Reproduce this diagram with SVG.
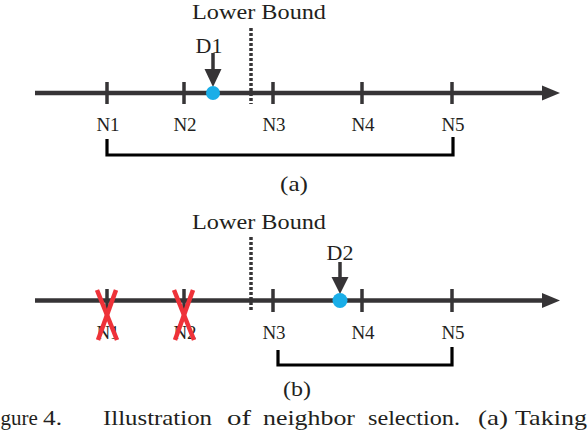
<svg xmlns="http://www.w3.org/2000/svg" width="588" height="436" viewBox="0 0 588 436" font-family="'Liberation Serif', 'Times New Roman', Times, serif">
<style>
text{font-family:'Liberation Serif','Times New Roman',Times,serif;fill:#231f20}
.lbl{font-size:19px;text-anchor:middle}
.lb{font-size:22px}
.d{font-size:22px;text-anchor:middle}
.sub{font-size:22px;text-anchor:middle}
.cap{font-size:21px}
.axis{stroke:#363436;stroke-width:4.5;fill:none}
.tick{stroke:#363436;stroke-width:3.5}
.dash{stroke:#363436;stroke-width:3.5;stroke-dasharray:3 2}
.br{stroke:#000;stroke-width:3.2;fill:none}
.ptr{stroke:#363436;stroke-width:3.5}
.dot{fill:#1aaee8}
.x{stroke:#ee3239;stroke-width:4.5;stroke-linecap:butt}
</style>
<g id="panel-a">
<g id="axis-a"><line class="axis" x1="35" y1="93" x2="545" y2="93"/><polygon points="542,85.5 560,93 542,100.5" fill="#363436"/></g>
<g id="a-N1"><line class="tick" x1="107" y1="82" x2="107" y2="104"/><text class="lbl" x="108" y="131">N1</text></g>
<g id="a-N2"><line class="tick" x1="184" y1="82" x2="184" y2="104"/><text class="lbl" x="185" y="131">N2</text></g>
<g id="a-N3"><line class="tick" x1="273" y1="82" x2="273" y2="104"/><text class="lbl" x="274" y="131">N3</text></g>
<g id="a-N4"><line class="tick" x1="362" y1="82" x2="362" y2="104"/><text class="lbl" x="363" y="131">N4</text></g>
<g id="a-N5"><line class="tick" x1="452" y1="82" x2="452" y2="104"/><text class="lbl" x="453" y="131">N5</text></g>
<g id="a-bound"><line class="dash" x1="251" y1="28" x2="251" y2="104"/><text class="lb" x="192" y="19" textLength="134" lengthAdjust="spacingAndGlyphs">Lower Bound</text></g>
<g id="a-D1"><text class="d" x="209" y="53">D1</text><line class="ptr" x1="213" y1="53" x2="213" y2="72"/><polygon points="204.5,69 221.5,69 213,87" fill="#363436"/><circle class="dot" cx="213" cy="93" r="7"/></g>
<g id="a-range"><polyline class="br" points="107,139 107,155 453,155 453,137"/></g>
<text class="sub" x="294" y="191" textLength="28" lengthAdjust="spacingAndGlyphs">(a)</text>
</g>
<g id="panel-b">
<g id="axis-b"><line class="axis" x1="35" y1="300.5" x2="545" y2="300.5"/><polygon points="542,293 560,300.5 542,308" fill="#363436"/></g>
<g id="b-N1"><line class="tick" x1="107" y1="289" x2="107" y2="312"/><text class="lbl" x="108" y="339">N1</text></g>
<g id="b-N2"><line class="tick" x1="184" y1="289" x2="184" y2="312"/><text class="lbl" x="185" y="339">N2</text></g>
<g id="b-N3"><line class="tick" x1="273" y1="289" x2="273" y2="312"/><text class="lbl" x="274" y="339">N3</text></g>
<g id="b-N4"><line class="tick" x1="362" y1="289" x2="362" y2="312"/><text class="lbl" x="363" y="339">N4</text></g>
<g id="b-N5"><line class="tick" x1="452" y1="289" x2="452" y2="312"/><text class="lbl" x="453" y="339">N5</text></g>
<g id="b-bound"><line class="dash" x1="251" y1="237" x2="251" y2="312"/><text class="lb" x="192" y="229" textLength="134" lengthAdjust="spacingAndGlyphs">Lower Bound</text></g>
<g id="b-D2"><text class="d" x="340" y="260">D2</text><line class="ptr" x1="340" y1="262" x2="340" y2="280"/><polygon points="331.5,277 348.5,277 340,294" fill="#363436"/><circle class="dot" cx="340" cy="300.5" r="7.5"/></g>
<g id="b-cross1"><line class="x" x1="97" y1="290" x2="117" y2="340"/><line class="x" x1="116" y1="290" x2="98" y2="340"/></g>
<g id="b-cross2"><line class="x" x1="174" y1="290" x2="194" y2="340"/><line class="x" x1="193" y1="290" x2="175" y2="340"/></g>
<g id="b-range"><polyline class="br" points="278,350 278,365 452,365 452,347"/></g>
<text class="sub" x="297" y="396" textLength="28" lengthAdjust="spacingAndGlyphs">(b)</text>
</g>
<g id="caption">
<text class="cap" x="0.5" y="425">gure</text>
<text class="cap" x="43" y="425" textLength="19" lengthAdjust="spacingAndGlyphs">4.</text>
<text class="cap" x="103" y="425" textLength="109" lengthAdjust="spacingAndGlyphs">Illustration</text>
<text class="cap" x="227" y="425" textLength="24" lengthAdjust="spacingAndGlyphs">of</text>
<text class="cap" x="263" y="425" textLength="92" lengthAdjust="spacingAndGlyphs">neighbor</text>
<text class="cap" x="368" y="425" textLength="92" lengthAdjust="spacingAndGlyphs">selection.</text>
<text class="cap" x="478" y="425" textLength="30" lengthAdjust="spacingAndGlyphs">(a)</text>
<text class="cap" x="515" y="425" textLength="72" lengthAdjust="spacingAndGlyphs">Taking</text>
</g>
</svg>
